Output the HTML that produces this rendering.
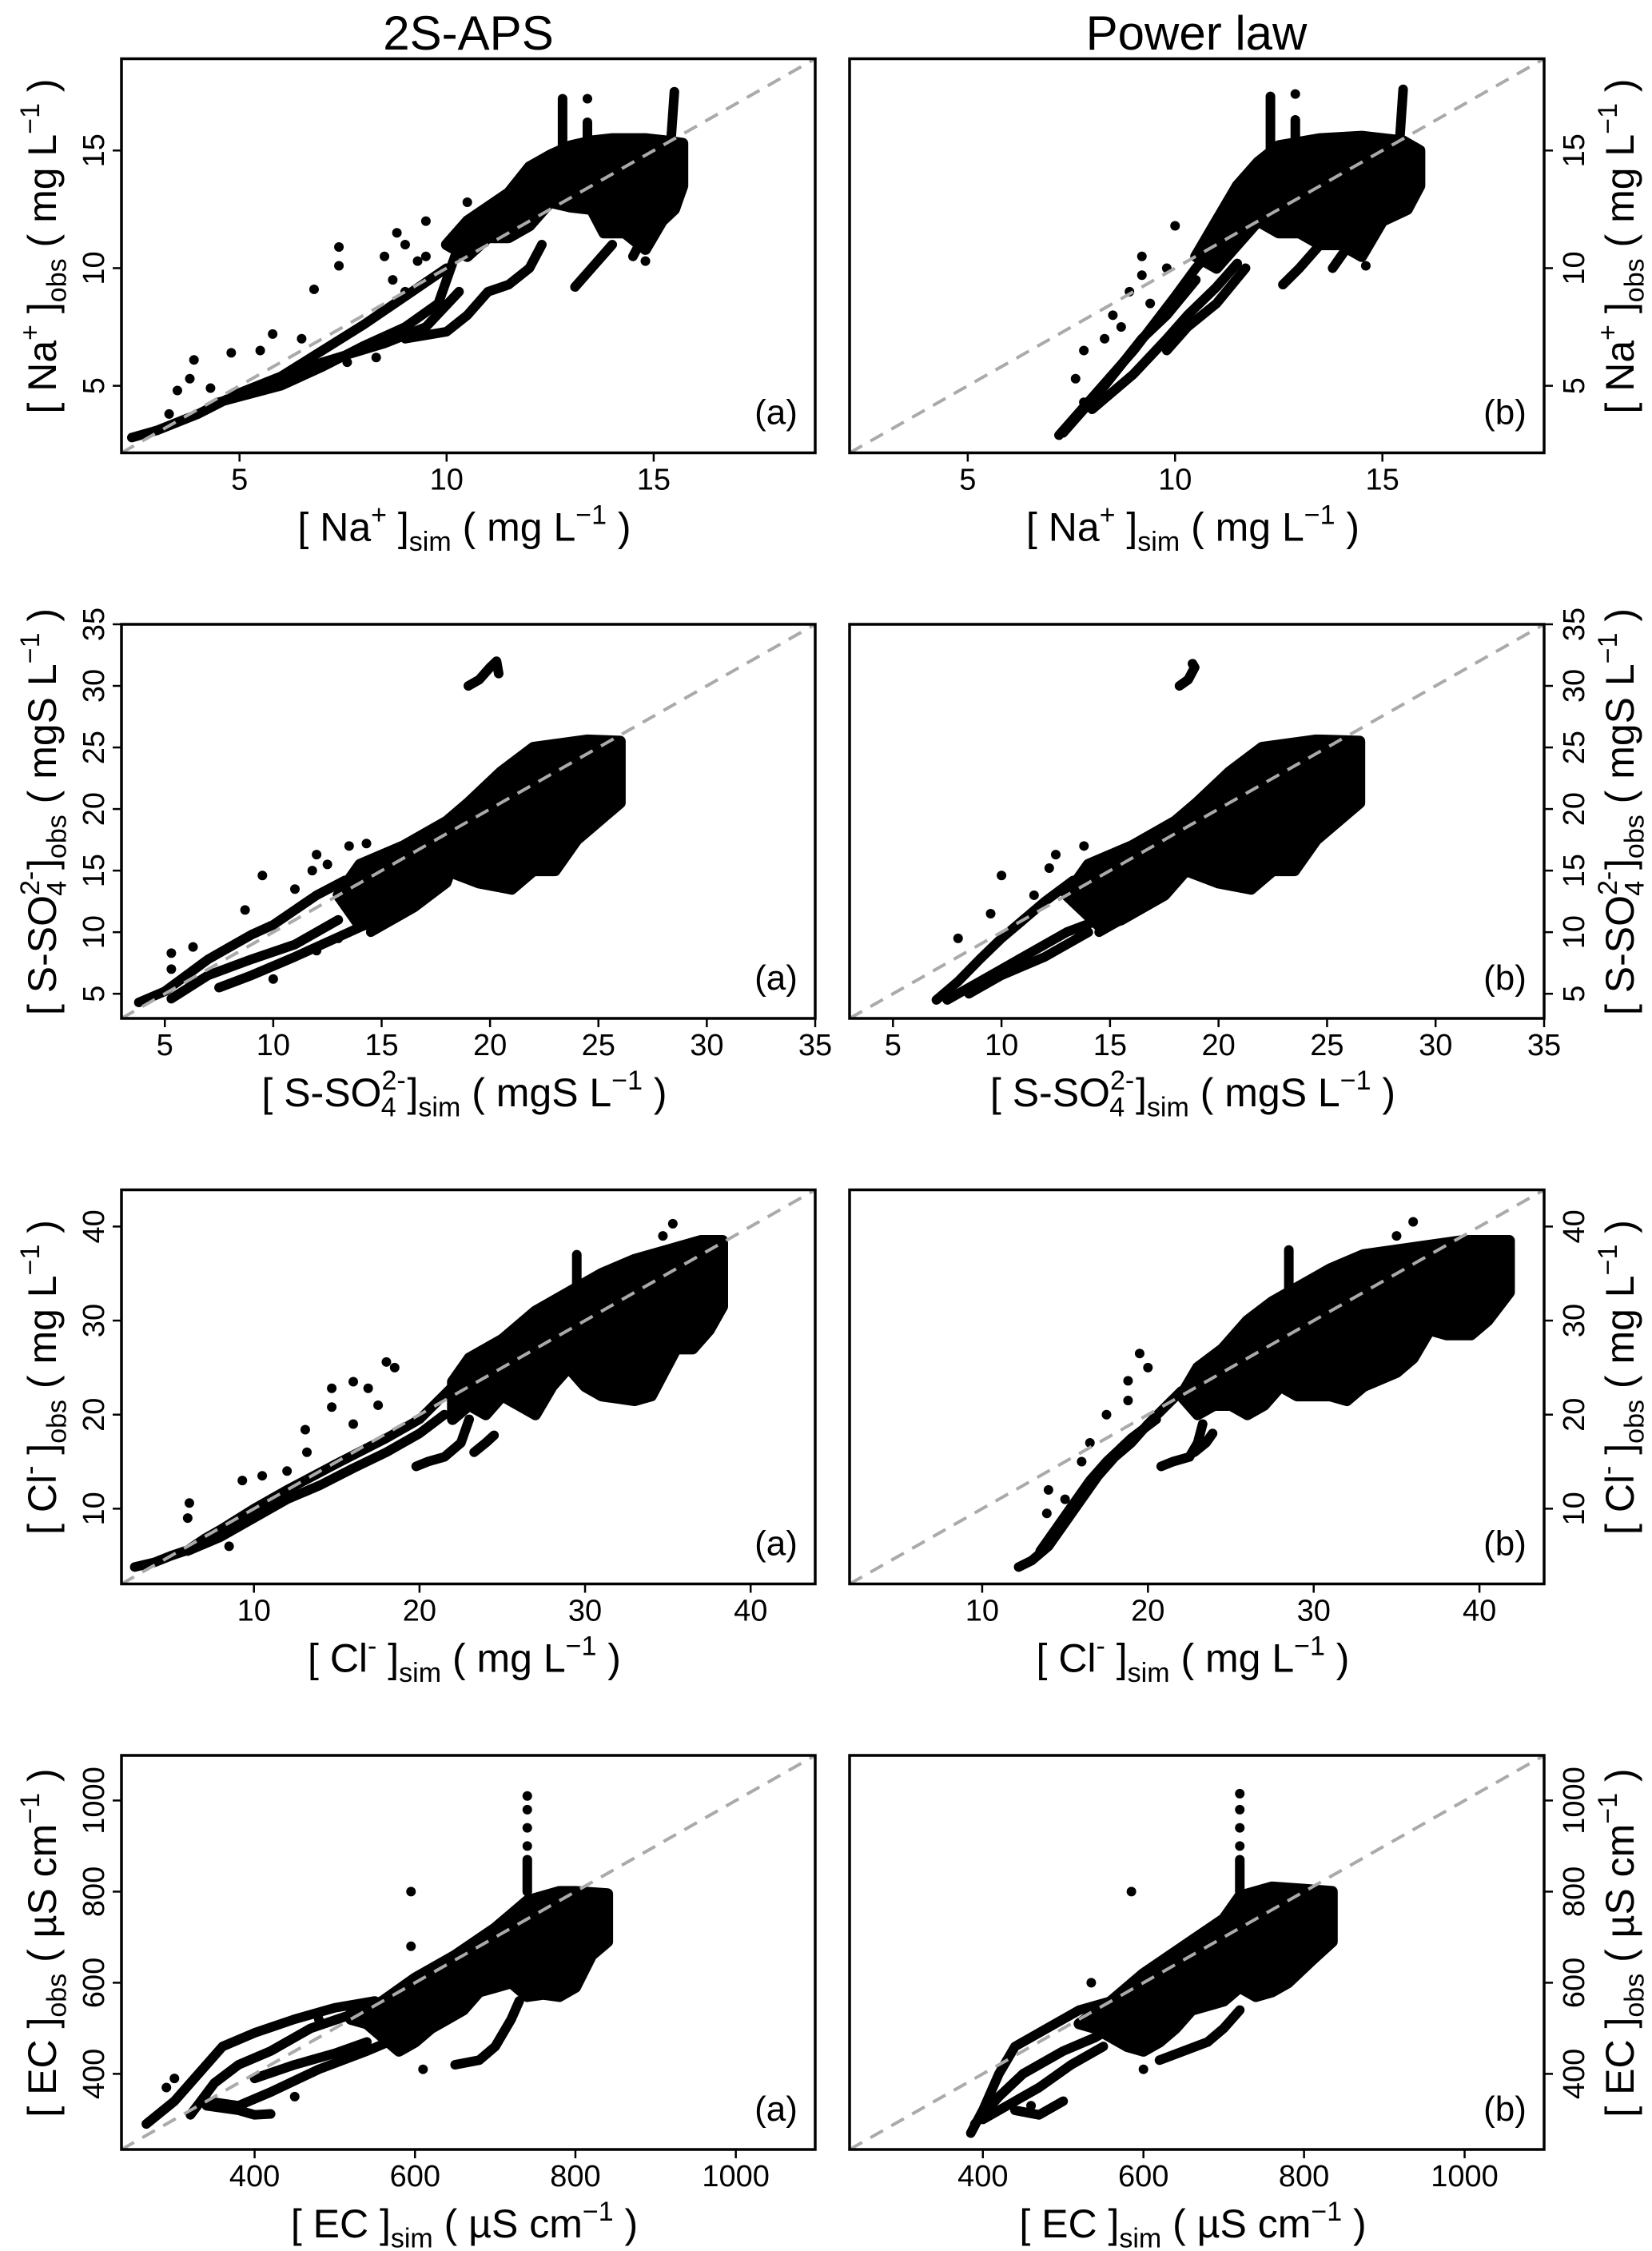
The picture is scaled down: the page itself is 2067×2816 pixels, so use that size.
<!DOCTYPE html>
<html><head><meta charset="utf-8"><title>2S-APS vs Power law scatter</title>
<style>html,body{margin:0;padding:0;background:#fff}svg{display:block}text{font-family:"Liberation Sans",Arial,sans-serif;fill:#000}</style>
</head><body>
<svg id="fig" width="2067" height="2816" viewBox="0 0 2067 2816" xmlns="http://www.w3.org/2000/svg">
<text x="586" y="62" font-size="60" text-anchor="middle">2S-APS</text>
<text x="1497" y="62" font-size="60" text-anchor="middle">Power law</text>
</svg>
<script>
// ---------- axis settings (data) ----------
const naRange=[2.15,18.9], so4Range=[3,35], clRange=[2,43.9], ecRange=[234,1099];
const naTicks=[5,10,15], so4Ticks=[5,10,15,20,25,30,35], clTicks=[10,20,30,40], ecTicks=[400,600,800,1000];
const naTickLabels=["5","10","15"], so4TickLabels=["5","10","15","20","25","30","35"], clTickLabels=["10","20","30","40"], ecTickLabels=["400","600","800","1000"];

// ---------- Na+ (a) ----------
const naA_cloud=[[10,11],[10.5,12],[11.5,13.2],[12,14.3],[12.5,14.8],[13,15.2],[13.5,15.4],[14,15.5],[14.8,15.5],[15.3,15.4],[15.7,15.3],[15.7,13.5],[15.5,12.5],[15.2,12],[14.8,10.8],[14.3,11.5],[13.8,11.5],[13.5,12.5],[13,12.6],[12.5,12.8],[12,11.8],[11.5,11.3],[11,11.3],[10.5,10.5]];
const naA_tracks=[
 [[2.4,2.8],[3,3.1],[4,3.8],[5,4.7],[6,5.4],[7,6.5],[8,7.6],[9,8.8],[10,10]],
 [[4.5,4.3],[6,5],[7,5.8],[8,6.7],[9,7.5],[9.8,8.5],[10.2,10.5]],
 [[5.5,5],[7,6],[8.5,6.8],[9.5,7.5],[10.3,9]],
 [[9,7],[10,7.3],[10.5,8],[11,9],[11.5,9.3],[12,10],[12.3,11]],
 [[12.8,13],[12.8,17.2]],[[15.4,15],[15.5,17.5]],[[13.4,14],[13.4,16.2]],
 [[13.1,9.2],[13.5,10],[14,11]],[[14.5,10.5],[14.8,11.5],[15,12.5]]];
const naA_points=[[7.4,10.9],[7.4,10.1],[6.8,9.1],[5.8,7.2],[3.9,6.1],[8.5,10.5],[8.8,11.5],[9,11],[9.3,10.3],[8.3,6.2],[7.6,6],[4.8,6.4],[6.5,7],[5.5,6.5],[3.8,5.3],[3.5,4.8],[8.7,9.5],[9.5,12],[10.5,12.8],[13.4,17.2],[14.8,10.3],[9,9],[9.5,10.5],[3.3,3.8],[4.3,4.9]];
// ---------- Na+ (b) ----------
const naB_cloud=[[10.5,10.5],[11,12],[11.5,13.5],[12,14.5],[12.5,15.2],[13.5,15.5],[14.5,15.6],[15.5,15.4],[15.9,15],[15.9,13.5],[15.6,12.5],[15,12],[14.5,10.5],[14,11],[13.5,11],[13,11.5],[12.5,11.5],[12,12],[11.5,11],[11,10]];
const naB_tracks=[
 [[7.2,2.9],[8,4.5],[9,6.5],[10,8.8],[10.5,10],[11,11]],
 [[7.3,3],[8.3,5],[9.2,7],[9.8,8],[10.5,9.5]],
 [[8,4],[9,5.5],[9.8,7],[10.3,8],[11,9.2],[11.5,10.2]],
 [[9.8,6.5],[10.3,7.5],[11,8.5],[11.7,10]],
 [[12.3,14],[12.3,17.3]],[[12.9,13],[12.9,16.3]],[[15.4,15],[15.5,17.6]],
 [[12.6,9.3],[13,10],[13.5,11]],[[13.8,10],[14.2,11],[14.6,12]]];
const naB_points=[[9.2,10.5],[9.2,9.7],[8.9,9],[7.8,6.5],[8.3,7],[8.5,8],[9.4,8.5],[10,11.8],[9.8,10],[8.7,7.5],[12.9,17.4],[14.6,10.1],[7.6,5.3],[7.8,4.3]];

// ---------- SO4 (a) ----------
const so4A_cloud=[[13,13],[14,15.5],[16,17],[18,19],[19,20.5],[20.5,23],[22,25],[24.5,25.6],[26,25.5],[26,20.5],[25,19],[24,17.5],[23,15],[22,15],[21,13.5],[19.5,14],[18,15],[17,13],[15,11],[14,10.5]];
const so4A_tracks=[
 [[3.8,4.3],[5,5.2],[6,6.5],[7,7.8],[8,8.8],[9,9.8],[10,10.6],[11,11.8],[12,13],[13.3,14.2]],
 [[5.3,4.6],[7,6.5],[9,7.8],[11,9],[13,11]],
 [[7.5,5.5],[9,6.5],[11,8],[13,9.6],[14.5,10.8]],
 [[14.5,10],[15,10.5],[16.5,12],[18,14],[18.6,17]],
 [[19,30],[19.5,30.5],[20,31.5],[20.3,32],[20.4,31]]];
const so4A_points=[[9.5,14.6],[11.8,15],[12,16.3],[13.5,17],[14.3,17.2],[11,13.5],[8.7,11.8],[6.3,8.8],[5.3,8.3],[5.3,7],[10,6.2],[12.5,15.5],[13,9.5],[12,8.5]];
// ---------- SO4 (b) ----------
const so4B_cloud=[[13,13],[14,15.5],[16,17],[18,19],[19,20.5],[20.5,23],[22,25],[24.5,25.6],[26.5,25.5],[26.5,20.5],[25.5,19],[24.5,17.5],[23.5,15],[22.5,15],[21.5,13.5],[20,14],[18.5,15],[17.5,13],[15.5,11],[14.5,10.5]];
const so4B_tracks=[
 [[7,4.5],[8,6],[9,7.8],[10,9.5],[11,11],[12,12.5],[13.3,14.2]],
 [[7.5,4.5],[9,6],[11,8],[13,10],[14.5,11]],
 [[8.5,5],[10,6.5],[12,8],[14,10]],
 [[14.5,10],[15,10.5],[16.5,12],[18,14],[18.6,17]],
 [[18.2,30],[18.6,30.5],[18.9,31.5],[18.8,31.8]]];
const so4B_points=[[10,14.6],[12.5,16.3],[13.8,17],[11.5,13],[9.5,11.5],[8,9.5],[12.2,15.2]];

// ---------- Cl (a) ----------
const clA_cloud=[[22,23.5],[23,26],[25,28],[27,31],[29,33],[31,35],[33,36.5],[35,37.5],[37,38.5],[38.3,38.5],[38.3,31.5],[37.5,29],[36.5,27],[35.5,27],[34,22],[33,21.5],[31,22],[30,23],[29,25],[28,23],[27,20],[26,21],[25,22],[24,20],[23,21],[22,19.5]];
const clA_tracks=[
 [[2.8,3.8],[4,4.3],[5,5],[6,5.6],[7,6.8],[8,7.8],[10,10],[12,12],[15,14.8],[18,17.5],[20,19.5],[22,23]],
 [[6,5.5],[8,7],[10,9],[12,11],[14,12.5],[16,14.3],[18,16],[20,18],[21.5,20]],
 [[19.8,14.5],[20.5,15],[21.5,15.5],[22.5,17],[23,19.5]],
 [[23.3,16],[24,17],[24.5,17.8]],
 [[29.5,30],[29.5,37]]];
const clA_points=[[14.7,22.8],[14.7,20.8],[13.1,18.4],[13.2,16],[12,14],[10.5,13.5],[9.3,13],[6.1,10.6],[6,9],[8.5,6],[16.9,22.8],[18,25.6],[18.5,25],[17.5,21],[16,19],[16,23.5],[22,22.5],[35.3,40.3],[34.7,39]];
// ---------- Cl (b) ----------
const clB_cloud=[[22,22],[23,25],[24.5,27],[26,30],[27.5,32],[29,33.5],[31,35.5],[33,37],[35,37.5],[37,38],[39,38.5],[41.8,38.5],[41.8,33],[40.5,30],[39.5,28.5],[38,28.5],[37,29],[36,26],[35,24.5],[33,23],[32,21.5],[31,22],[29,22],[28,23],[27,21],[26,20],[25,21],[24,21],[23,20]];
const clB_tracks=[
 [[12.2,3.8],[13,4.5],[14,6],[15,8.5],[16,11],[17,13.5],[18,15.5],[19,17],[20,19],[22,22.5]],
 [[13.5,5.5],[14.5,8],[15.5,10.5],[16.5,13],[17.5,15],[19,17.5],[20.5,19.5]],
 [[20.8,14.5],[21.5,15],[22.5,15.5],[23,17],[23.3,19]],
 [[22.8,16],[23.5,17],[23.9,18]],
 [[28.5,30.5],[28.5,37.5]]];
const clB_points=[[18.8,23.6],[18.8,21.5],[19.5,26.5],[20,25],[17.5,20],[16,15],[14,12],[13.9,9.5],[36,40.5],[35,39],[15,11],[16.5,17]];

// ---------- EC (a) ----------
const ecA_cloud=[[560,560],[600,610],[650,660],[700,720],[740,780],[780,800],[800,800],[840,795],[840,690],[820,660],[800,590],[780,570],[760,575],[740,570],[720,600],[700,590],[680,580],[660,540],[640,520],[620,500],[600,470],[580,450],[560,480],[540,510],[520,520]];
const ecA_tracks=[
 [[265,290],[300,340],[330,400],[360,460],[400,490],[450,520],[500,545],[550,560]],
 [[320,310],[350,380],[380,420],[420,450],[470,500],[520,530],[560,555]],
 [[340,340],[380,330],[420,360],[480,410],[540,450],[580,480]],
 [[340,330],[380,320],[400,310],[420,312]],
 [[650,420],[680,430],[700,460],[720,520],[730,560]],
 [[400,390],[450,420],[500,445],[540,470]],
 [[740,800],[740,870]]];
const ecA_points=[[595,800],[595,680],[300,390],[290,370],[450,350],[610,410],[520,540],[480,520],[740,900],[740,940],[740,980],[740,1010]];
// ---------- EC (b) ----------
const ecB_cloud=[[560,560],[600,620],[650,680],[700,740],[720,790],[760,810],[800,805],[835,800],[835,690],[810,650],[780,600],[760,580],[740,570],[720,590],[700,560],[660,540],[640,500],[620,470],[600,450],[580,460],[560,480],[540,500],[520,510]];
const ecB_tracks=[
 [[385,270],[400,320],[420,400],[440,460],[480,500],[520,540],[560,560]],
 [[390,290],[420,350],[450,400],[500,450],[540,480],[570,510]],
 [[400,300],[430,330],[470,370],[510,420],[550,460]],
 [[440,320],[470,310],[500,340]],
 [[620,430],[650,450],[680,470],[700,500],[720,540]],
 [[720,800],[720,870]]];
const ecB_points=[[585,800],[535,600],[600,410],[460,330],[720,900],[720,940],[720,980],[720,1015]];

// ---------- layout ----------
const NS='http://www.w3.org/2000/svg';
const svg=document.getElementById('fig');
const COLS=[[152,1020],[1063,1932]];
const ROW0=73.5, ROWSTEP=707.5, PH=493;

function el(tag,attrs,parent){const e=document.createElementNS(NS,tag);for(const k in attrs)e.setAttribute(k,attrs[k]);(parent||svg).appendChild(e);return e;}

function richText(parent,segs,x,y,size,rot,name){
  const t=el('text',{x:x,y:y,'font-size':size,'text-anchor':'middle'},parent);
  
  
  if(rot)t.setAttribute('transform','rotate(-90 '+x+' '+y+')');
  let off=0;
  segs.forEach(s=>{
    const sp=document.createElementNS(NS,'tspan');
    let target=0,fs=size;
    if(s[1]==='sup'){target=-0.42*size;fs=0.68*size;}
    else if(s[1]==='sub'){target=0.25*size;fs=0.68*size;}
    else if(s[1]==='subx'){target=0.25*size;fs=0.68*size;sp.setAttribute('dx',-0.62*size);}
    sp.setAttribute('dy',target-off);off=target;
    sp.setAttribute('font-size',fs);
    sp.textContent=s[0];t.appendChild(sp);
  });
  return t;
}

function panel(col,row,range,ticks,tlabels,cloud,tracks,points,xlab,ylab,letter,id){
  const [x0,x1]=COLS[col];const y0=ROW0+row*ROWSTEP,y1=y0+PH;
  const sx=v=>x0+(v-range[0])/(range[1]-range[0])*(x1-x0);
  const sy=v=>y1-(v-range[0])/(range[1]-range[0])*(y1-y0);
  const g=el('g',{});
  
  
  const cp=el('clipPath',{id:'clip-'+id},g);
  el('rect',{x:x0,y:y0,width:x1-x0,height:y1-y0},cp);
  const plot=el('g',{'clip-path':'url(#clip-'+id+')'},g);
  
  
  const cl=el('polygon',{points:cloud.map(p=>sx(p[0])+','+sy(p[1])).join(' '),fill:'#000',stroke:'#000','stroke-width':14,'stroke-linejoin':'round'},plot);
  
  
  tracks.forEach(tr=>{
    const pl=el('polyline',{points:tr.map(p=>sx(p[0])+','+sy(p[1])).join(' '),fill:'none',stroke:'#000','stroke-width':12,'stroke-linejoin':'round','stroke-linecap':'round'},plot);
    
    
  });
  points.forEach(p=>{
    const c=el('circle',{cx:sx(p[0]),cy:sy(p[1]),r:6,fill:'#000'},plot);
    
    
  });
  const d=el('line',{x1:sx(range[0]),y1:sy(range[0]),x2:sx(range[1]),y2:sy(range[1]),stroke:'#aaaaaa','stroke-width':4,'stroke-dasharray':'18 12'},plot);
  
  
  const b=el('rect',{x:x0,y:y0,width:x1-x0,height:y1-y0,fill:'none',stroke:'#000','stroke-width':3.5},g);
  
  
  ticks.forEach((v,i)=>{
    const tk=el('line',{x1:sx(v),y1:y1,x2:sx(v),y2:y1+11,stroke:'#000','stroke-width':2.5},g);
    
    
    const tl=el('text',{x:sx(v),y:y1+46,'font-size':38,'text-anchor':'middle'},g);
    
    
    tl.textContent=tlabels[i];
  });
  const right=col===1;
  ticks.forEach((v,i)=>{
    const xa=right?x1:x0, xb=right?x1+11:x0-11;
    const tk=el('line',{x1:xa,y1:sy(v),x2:xb,y2:sy(v),stroke:'#000','stroke-width':2.5},g);
    
    
    const lx=right?x1+50:x0-22;
    const tl=el('text',{x:lx,y:sy(v),'font-size':38,'text-anchor':'middle',transform:'rotate(-90 '+lx+' '+sy(v)+')'},g);
    
    
    tl.textContent=tlabels[i];
  });
  richText(g,xlab,(x0+x1)/2-5,y1+110,50,false,'x-axis-title');
  const ylx=right?x1+112:x0-82;
  richText(g,ylab,ylx,(y0+y1)/2-12,50,true,'y-axis-title');
  const lt=el('text',{x:x1-49,y:y1-36,'font-size':44,'text-anchor':'middle'},g);
  
  
  lt.textContent=letter;
}

const naX=[['[ Na'],['+','sup'],[' ]'],['sim','sub'],[' ( mg L'],['\u22121','sup'],[' )']];
const naY=[['[ Na'],['+','sup'],[' ]'],['obs','sub'],[' ( mg L'],['\u22121','sup'],[' )']];
const soX=[['[ S-SO'],['2-','sup'],['4','subx'],[' ]'],['sim','sub'],[' ( mgS L'],['\u22121','sup'],[' )']];
const soY=[['[ S-SO'],['2-','sup'],['4','subx'],[' ]'],['obs','sub'],[' ( mgS L'],['\u22121','sup'],[' )']];
const clX=[['[ Cl'],['-','sup'],[' ]'],['sim','sub'],[' ( mg L'],['\u22121','sup'],[' )']];
const clY=[['[ Cl'],['-','sup'],[' ]'],['obs','sub'],[' ( mg L'],['\u22121','sup'],[' )']];
const ecX=[['[ EC ]'],['sim','sub'],[' ( \u00b5S cm'],['\u22121','sup'],[' )']];
const ecY=[['[ EC ]'],['obs','sub'],[' ( \u00b5S cm'],['\u22121','sup'],[' )']];

panel(0,0,naRange,naTicks,naTickLabels,naA_cloud,naA_tracks,naA_points,naX,naY,'(a)','na-a');
panel(1,0,naRange,naTicks,naTickLabels,naB_cloud,naB_tracks,naB_points,naX,naY,'(b)','na-b');
panel(0,1,so4Range,so4Ticks,so4TickLabels,so4A_cloud,so4A_tracks,so4A_points,soX,soY,'(a)','so4-a');
panel(1,1,so4Range,so4Ticks,so4TickLabels,so4B_cloud,so4B_tracks,so4B_points,soX,soY,'(b)','so4-b');
panel(0,2,clRange,clTicks,clTickLabels,clA_cloud,clA_tracks,clA_points,clX,clY,'(a)','cl-a');
panel(1,2,clRange,clTicks,clTickLabels,clB_cloud,clB_tracks,clB_points,clX,clY,'(b)','cl-b');
panel(0,3,ecRange,ecTicks,ecTickLabels,ecA_cloud,ecA_tracks,ecA_points,ecX,ecY,'(a)','ec-a');
panel(1,3,ecRange,ecTicks,ecTickLabels,ecB_cloud,ecB_tracks,ecB_points,ecX,ecY,'(b)','ec-b');
</script>
</body></html>
